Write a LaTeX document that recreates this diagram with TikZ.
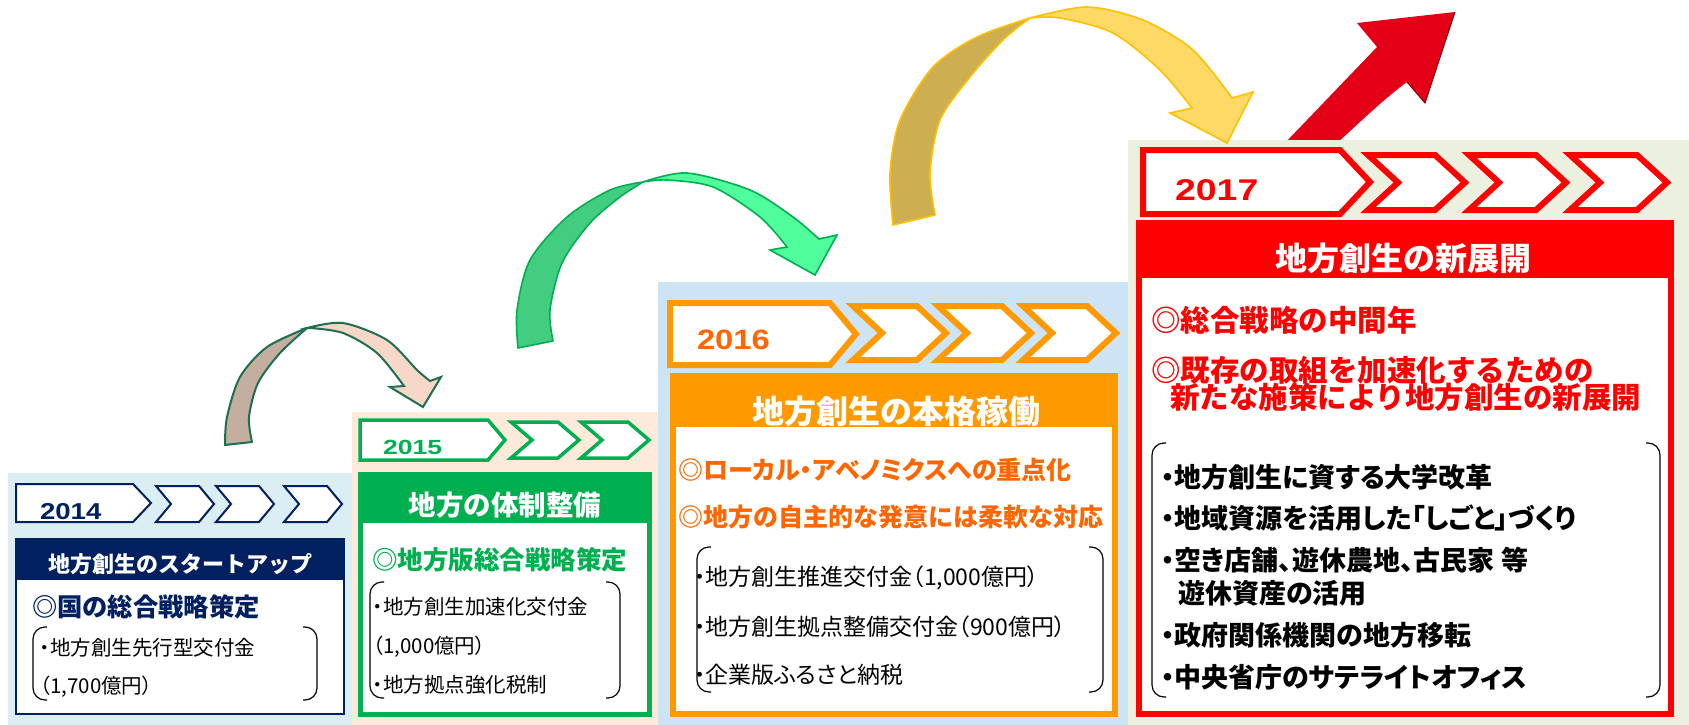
\documentclass[tikz,border=0pt]{standalone}
\usepackage{fontspec}
\usepackage{graphicx}
\setmainfont{Noto Sans CJK JP}
\newfontfamily\pj{Noto Sans CJK JP}[RawFeature=+palt]
\newfontfamily\arfont{Liberation Sans}
\newcommand\fsz[1]{\fontsize{#1}{#1}\selectfont}
\definecolor{navyc}{RGB}{0,32,96}
\definecolor{greenc}{RGB}{0,176,80}
\definecolor{orangec}{RGB}{255,153,0}
\definecolor{orangetx}{RGB}{255,102,0}
\definecolor{redc}{RGB}{255,0,0}
\definecolor{bgA}{RGB}{218,238,243}
\definecolor{bgB}{RGB}{253,234,218}
\definecolor{bgC}{RGB}{205,228,245}
\definecolor{bgD}{RGB}{235,241,222}
\definecolor{arA}{RGB}{31,110,80}
\definecolor{arAdark}{RGB}{196,174,160}
\definecolor{arAlight}{RGB}{246,215,200}
\definecolor{arBdark}{RGB}{66,205,128}
\definecolor{arBlight}{RGB}{80,255,155}
\definecolor{arC}{RGB}{255,192,0}
\definecolor{arCdark}{RGB}{205,174,80}
\definecolor{arClight}{RGB}{255,217,102}
\definecolor{bigred}{RGB}{227,0,22}
\definecolor{bigreddk}{RGB}{120,0,10}
\newcommand\chevshape[6]{\draw[#1] (#2,#5) -- (#3,#5) -- (#4,{(#5+#6)/2}) -- (#3,#6) -- (#2,#6) -- ({#2+#4-#3},{(#5+#6)/2}) -- cycle;}
\newcommand\pentshape[6]{\draw[#1] (#2,#5) -- (#3,#5) -- (#4,{(#5+#6)/2}) -- (#3,#6) -- (#2,#6) -- cycle;}
\newcommand\brackets[4]{%
  \draw[brk] (#1+14,#3) -- (#1,#3) -- (#1,#4) -- (#1+14,#4);
  \draw[brk] (#2-14,#3) -- (#2,#3) -- (#2,#4) -- (#2-14,#4);}
\begin{document}
\begin{tikzpicture}[x=1pt,y=-1pt,
  tx/.style={anchor=west,inner sep=0,outer sep=0},
  hd/.style={anchor=center,inner sep=0,outer sep=0,text=white},
  yr/.style={anchor=west,inner sep=0,outer sep=0},
  brk/.style={line width=1.2,rounded corners=12,black},
  chA/.style={draw=navyc,fill=white,line width=2,line join=miter},
  chB/.style={draw=greenc,fill=white,line width=3.5,line join=miter},
  chC/.style={draw=orangec,fill=white,line width=6,line join=miter},
  chD/.style={draw=redc,fill=white,line width=6,line join=miter},
  aAd/.style={draw=arA,fill=arAdark,line width=2,line join=round},
  aAl/.style={draw=arA,fill=arAlight,line width=2,line join=miter},
  aBd/.style={draw=greenc,fill=arBdark,line width=1.6,line join=round},
  aBl/.style={draw=greenc,fill=arBlight,line width=1.6,line join=miter},
  aCd/.style={draw=arC,fill=arCdark,line width=1.6,line join=round},
  aCl/.style={draw=arC,fill=arClight,line width=1.6,line join=miter}]
\useasboundingbox (0,0) rectangle (1689,725);
\fill[white] (0,0) rectangle (1689,725);
% big red arrow
\fill[bigred] (1455,12) -- (1357,23) -- (1377,47) -- (1283,145) -- (1335,145) .. controls (1360,122) and (1385,98) .. (1407,82) -- (1425,103) -- cycle;
\draw[bigreddk,line width=1] (1455,12) -- (1425,103) -- (1407,82);
% backgrounds
\fill[bgA] (8,473) rectangle (352,725);
\fill[bgB] (352,412) rectangle (660,725);
\fill[bgC] (658,282) rectangle (1128,725);
\fill[bgD] (1128,140) rectangle (1689,725);
% curved arrows
\filldraw[aAl] (307,328) -- plot[smooth] coordinates {(307,328) (343,323) (387,340) (417,370) (430,381)} -- (441,377) -- (423,407) -- (390,387) -- (404,386) -- plot[smooth] coordinates {(404,386) (377,353) (343,333) (310,328)} -- cycle;
\filldraw[aAd] (225,445) -- plot[smooth] coordinates {(225,445) (227,417) (240,377) (267,347) (307,328)} -- plot[smooth] coordinates {(307,328) (280,353) (258,383) (249,417) (252,442)} -- cycle;
\filldraw[aBl] (643,182) -- plot[smooth] coordinates {(643,182) (687,173) (750,190) (793,217) (819,239)} -- (837,235) -- (815,275) -- (770,250) -- (787,247) -- plot[smooth] coordinates {(787,247) (760,217) (713,187) (667,180) (643,182)} -- cycle;
\filldraw[aBd] (518,348) -- plot[smooth] coordinates {(518,348) (517,310) (530,260) (567,217) (610,190) (643,182)} -- plot[smooth] coordinates {(643,182) (620,197) (590,223) (562,263) (550,310) (553,341)} -- cycle;
\filldraw[aCl] (1030,18) -- plot[smooth] coordinates {(1030,18) (1087,7) (1143,20) (1193,50) (1232,98)} -- (1253,92) -- (1227,143) -- (1170,113) -- (1192,108) -- plot[smooth] coordinates {(1192,108) (1160,70) (1113,33) (1060,18) (1030,18)} -- cycle;
\filldraw[aCd] (893,225) -- plot[smooth] coordinates {(893,225) (890,173) (900,120) (933,67) (977,37) (1030,18)} -- plot[smooth] coordinates {(1030,18) (1003,40) (970,77) (940,120) (930,173) (935,215)} -- cycle;
% ---------- 2014 ----------
\pentshape{chA}{16}{133}{151}{484}{522}
\chevshape{chA}{156}{199}{214}{486}{522}
\chevshape{chA}{216}{259}{274}{486}{522}
\chevshape{chA}{284}{327}{342}{486}{522}
\node[yr,text=navyc,font=\arfont\bfseries\fsz{23}] (y14) at (40,512) {\scalebox{1.2}[1]{2014}};
\filldraw[draw=navyc,fill=white,line width=2] (16,539) rectangle (344,714);
\fill[navyc] (16,539) rectangle (344,580);
\node[hd,font=\bfseries\fsz{22}] (h14) at (180,564) {地方創生のスタートアップ};
\node[tx,text=navyc,font=\bfseries\fsz{25.3}] (s14) at (32,607) {◎国の総合戦略策定};
\brackets{33}{317}{627}{700}
\node[tx,font=\pj\fsz{20.5}] (i14a) at (40,648) {・地方創生先行型交付金};
\node[tx,font=\pj\fsz{20.5}] (i14b) at (40,687) {（1,700億円）};
% ---------- 2015 ----------
\pentshape{chB}{360}{488}{505}{420}{460}
\chevshape{chB}{511}{558}{579}{422}{458}
\chevshape{chB}{581}{628}{649}{422}{458}
\node[yr,text=greenc,font=\arfont\bfseries\fsz{20.5}] (y15) at (383,447) {\scalebox{1.3}[1]{2015}};
\filldraw[draw=greenc,fill=white,line width=5] (360.5,474.5) rectangle (649.5,714.5);
\fill[greenc] (358,472) rectangle (652,523);
\node[hd,font=\bfseries\fsz{27.5}] (h15) at (505,505) {地方の体制整備};
\node[tx,text=greenc,font=\bfseries\fsz{25.5}] (s15) at (372,560) {◎地方版総合戦略策定};
\brackets{370}{620}{582}{698}
\node[tx,font=\pj\fsz{20.5}] (i15a) at (373,607) {・地方創生加速化交付金};
\node[tx,font=\pj\fsz{20.5}] (i15b) at (373,647) {（1,000億円）};
\node[tx,font=\pj\fsz{20.5}] (i15c) at (373,685) {・地方拠点強化税制};
% ---------- 2016 ----------
\pentshape{chC}{670}{830}{856}{303}{365}
\chevshape{chC}{853}{917}{946}{306}{360}
\chevshape{chC}{938}{1002}{1031}{306}{360}
\chevshape{chC}{1023}{1087}{1116}{306}{360}
\node[yr,text=orangetx,font=\arfont\bfseries\fsz{28}] (y16) at (697,340) {\scalebox{1.17}[1]{2016}};
\filldraw[draw=orangec,fill=white,line width=6] (673,376) rectangle (1115,714);
\fill[orangec] (670,373) rectangle (1118,427);
\node[hd,font=\bfseries\fsz{32}] (h16) at (896,411) {地方創生の本格稼働};
\node[tx,text=orangetx,font=\pj\bfseries\fsz{25}] (s16a) at (678,470) {◎ローカル・アベノミクスへの重点化};
\node[tx,text=orangetx,font=\bfseries\fsz{25}] (s16b) at (678,517) {◎地方の自主的な発意には柔軟な対応};
\brackets{697}{1103}{547}{692}
\node[tx,font=\pj\fsz{23}] (i16a) at (694,578) {・地方創生推進交付金（1,000億円）};
\node[tx,font=\pj\fsz{23}] (i16b) at (694,627) {・地方創生拠点整備交付金（900億円）};
\node[tx,font=\pj\fsz{23}] (i16c) at (694,675) {・企業版ふるさと納税};
% ---------- 2017 ----------
\pentshape{chD}{1143}{1340}{1370}{150}{214}
\chevshape{chD}{1368}{1435}{1465}{155}{210}
\chevshape{chD}{1469}{1536}{1566}{155}{210}
\chevshape{chD}{1570}{1637}{1667}{155}{210}
\node[yr,text=redc,font=\arfont\bfseries\fsz{30}] (y17) at (1175,190) {\scalebox{1.25}[1]{2017}};
\filldraw[draw=redc,fill=white,line width=6] (1139,223) rectangle (1671,714);
\fill[redc] (1136,220) rectangle (1674,278);
\node[hd,font=\bfseries\fsz{32}] (h17) at (1403,258) {地方創生の新展開};
\node[tx,text=redc,font=\bfseries\fsz{29.5}] (s17a) at (1151,320) {◎総合戦略の中間年};
\node[tx,text=redc,font=\bfseries\fsz{29.5}] (s17b) at (1151,370) {◎既存の取組を加速化するための};
\node[tx,text=redc,font=\bfseries\fsz{29.5}] (s17c) at (1170,397) {新たな施策により地方創生の新展開};
\brackets{1152}{1660}{443}{697}
\node[tx,font=\pj\bfseries\fsz{27}] (i17a) at (1161,477) {・地方創生に資する大学改革};
\node[tx,font=\pj\bfseries\fsz{27}] (i17b) at (1161,518) {・地域資源を活用した「しごと」づくり};
\node[tx,font=\pj\bfseries\fsz{27}] (i17c) at (1161,560) {・空き店舗、遊休農地、古民家 等};
\node[tx,font=\pj\bfseries\fsz{27}] (i17d) at (1178,593) {遊休資産の活用};
\node[tx,font=\pj\bfseries\fsz{27}] (i17e) at (1161,635) {・政府関係機関の地方移転};
\node[tx,font=\pj\bfseries\fsz{27}] (i17f) at (1161,677) {・中央省庁のサテライトオフィス};
\end{tikzpicture}
\end{document}
